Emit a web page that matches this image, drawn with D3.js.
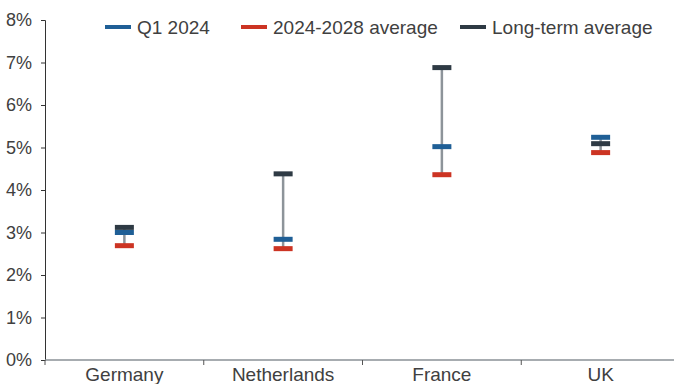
<!DOCTYPE html>
<html>
<head>
<meta charset="utf-8">
<script src="https://cdn.jsdelivr.net/npm/d3@7/dist/d3.min.js"></script>
<style>
  html, body { margin: 0; padding: 0; background: #fff; }
  svg text { font-family: "Liberation Sans", Arial, sans-serif; fill: #404040; }
</style>
</head>
<body>
<svg id="chart" width="674" height="384"></svg>
<script>
// Markets and their yields (%)
const countries = ["Germany", "Netherlands", "France", "UK"];
const q1_2024 = [3.0, 2.84, 5.02, 5.24];
const avg2024_2028 = [2.69, 2.62, 4.36, 4.88];
const longTermAvg = [3.12, 4.38, 6.88, 5.09];
const yTicks = [0, 1, 2, 3, 4, 5, 6, 7, 8];

const seriesNames = ["Q1 2024", "2024-2028 average", "Long-term average"];
const seriesColors = ["#1f5f96", "#cc3423", "#2e3a44"];
const seriesValues = [q1_2024, avg2024_2028, longTermAvg];

const svg = d3.select("#chart");
const margin = { left: 45, top: 20, bottom: 24 };
const H = 384;

const x = d3.scaleBand().domain(countries).range([margin.left, 680]);
const y = d3.scaleLinear().domain([0, 8]).range([H - margin.bottom, margin.top]);

// y axis
const yAxis = svg.append("g")
  .attr("transform", `translate(${margin.left},0)`)
  .call(d3.axisLeft(y).tickValues(yTicks).tickFormat(d => d + "%").tickSize(4).tickPadding(9));
yAxis.select(".domain").attr("stroke", "#333").attr("stroke-width", 1);
yAxis.selectAll(".tick line").attr("stroke", "#333");
yAxis.selectAll(".tick text").style("font-size", "18px").attr("fill", "#404040");

// x axis with boundary ticks between categories
const xAxisG = svg.append("g").attr("transform", `translate(0,${y(0)})`);
xAxisG.append("line")
  .attr("x1", margin.left).attr("x2", 674)
  .attr("stroke", "#8a9096").attr("stroke-width", 1.5);
xAxisG.selectAll(".bnd")
  .data(countries)
  .join("line")
  .attr("x1", d => x(d)).attr("x2", d => x(d))
  .attr("y1", 0).attr("y2", 5)
  .attr("stroke", "#555");
xAxisG.selectAll(".lbl")
  .data(countries)
  .join("text")
  .attr("x", d => x(d) + x.bandwidth() / 2)
  .attr("y", 21)
  .attr("text-anchor", "middle")
  .style("font-size", "19px")
  .text(d => d);

// range whiskers
const rows = countries.map((c, i) => ({
  c,
  vals: seriesValues.map(s => s[i])
}));
svg.append("g").selectAll("line")
  .data(rows)
  .join("line")
  .attr("x1", d => x(d.c) + x.bandwidth() / 2)
  .attr("x2", d => x(d.c) + x.bandwidth() / 2)
  .attr("y1", d => y(d3.max(d.vals)))
  .attr("y2", d => y(d3.min(d.vals)))
  .attr("stroke", "#8d949a")
  .attr("stroke-width", 2.5);

// markers
const mw = 19, mh = 5;
seriesValues.forEach((vals, si) => {
  svg.append("g").selectAll("rect")
    .data(countries)
    .join("rect")
    .attr("x", d => x(d) + x.bandwidth() / 2 - mw / 2)
    .attr("y", (d, i) => y(vals[i]) - mh / 2)
    .attr("width", mw)
    .attr("height", mh)
    .attr("fill", seriesColors[si]);
});

// legend
const legendX = [105, 241, 460];
const legend = svg.append("g");
seriesNames.forEach((n, i) => {
  legend.append("rect")
    .attr("x", legendX[i]).attr("y", 25)
    .attr("width", 26).attr("height", 4)
    .attr("fill", seriesColors[i]);
  legend.append("text")
    .attr("x", legendX[i] + 32).attr("y", 33.5)
    .style("font-size", "19px")
    .text(n);
});
</script>
</body>
</html>
